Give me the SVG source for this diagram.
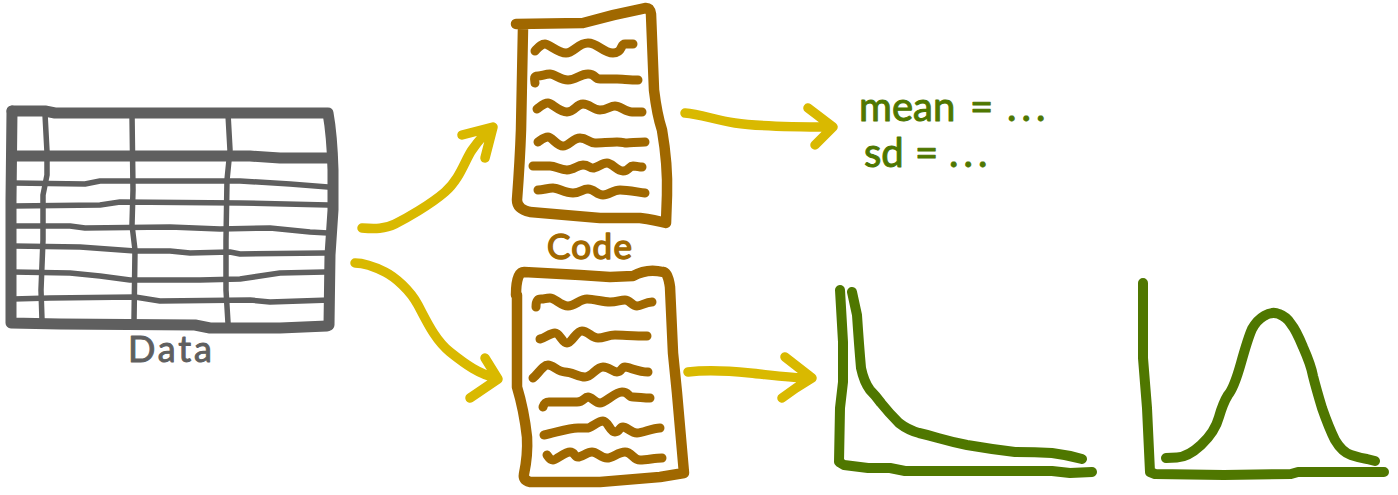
<svg xmlns="http://www.w3.org/2000/svg" width="1398" height="495" viewBox="0 0 1398 495">
<style>
path{fill:none;stroke-linecap:round;stroke-linejoin:round}
text{font-family:"Lato","Liberation Sans",sans-serif;font-weight:400;stroke-linejoin:round}
.g{stroke:#5f5f5f}.thick{stroke-width:11}.thin{stroke-width:5.5}
.b{stroke:#a06800}.box{stroke-width:10.5}.w{stroke-width:9}
.y{stroke:#d9b900;stroke-width:9.5}
.gr{stroke:#4f7700;stroke-width:10}
.tg{fill:#5f5f5f;stroke:#5f5f5f;stroke-width:1}
.tb{fill:#a06800;stroke:#a06800;stroke-width:1.5}
.tgr{fill:#4f7700;stroke:#4f7700;stroke-width:1}
</style>
<rect width="1398" height="495" fill="#fff"/>
<g id="data">
<path class="g thin" d="M45 114L47 152L47 175L43 195L43 240L41 290L42 320"/>
<path class="g thin" d="M132 114L133 190L132 225L135 250L134 322"/>
<path class="g thin" d="M228 114L230 150L227 180L226 240L226 290L228 323"/>
<path class="g thin" d="M13 183L85 184L100 181L240 181L290 184L328 187"/>
<path class="g thin" d="M13 206L100 205L120 202L240 203L328 205"/>
<path class="g thin" d="M13 226L70 226L85 228L170 227L220 229L270 228L310 232L328 233"/>
<path class="g thin" d="M13 246L80 247L135 251L170 251L190 253L230 252L240 254L325 253"/>
<path class="g thin" d="M13 272L70 273L100 276L130 280L200 280L240 279L280 273L325 272"/>
<path class="g thin" d="M13 299L50 298L135 297L160 301L250 300L270 302L330 300"/>
<path class="g thick" d="M12 111L45 111L55 113L328 113Q332 135 333 170L333 210L330 255L329 325"/>
<path class="g thick" d="M12 111L11 200L11 323L60 324L195 325L210 328L280 328L327 326"/>
<path class="g thick" d="M12 156L250 156L280 158L332 158"/>
</g>
<g id="data-label"><text class="tg" x="128" y="362" font-size="36" textLength="84" lengthAdjust="spacing">Data</text></g>
<g id="code-top">
<path class="b box" d="M516 24L583 23Q615 14 646 8Q650 8 651 14L654 90Q657 115 662 130Q668 165 667 195L666 223Q655 220 640 218L600 218L530 212Q517 209 517 200Q520 160 521 130L523 28"/>
<path class="b w" d="M535 51C539 47 541 44 545 44S558 53 566 53S578 43 588 43S603 53 613 53S620 44 625 44S630 44 633 44"/>
<path class="b w" d="M535 83C534 78 534 76 538 76S545 74 550 74S560 80 568 80S580 74 588 74S594 79 600 79S612 79 617 79S630 80 638 80"/>
<path class="b w" d="M537 109C541 106 544 103 548 103S559 112 567 112S576 104 583 104S593 110 600 110S610 106 615 106S626 112 632 112S639 112 642 112"/>
<path class="b w" d="M538 142C541 140 544 137 548 137S557 146 563 146S573 138 580 138S589 143 595 143S610 142 617 142S623 143 627 143S638 142 645 142"/>
<path class="b w" d="M533 166C538 166 544 166 550 166S560 170 567 170S577 165 583 165S589 168 593 168S602 163 607 163S617 171 623 171S629 166 633 166S639 167 642 167"/>
<path class="b w" d="M538 190C543 190 548 188 553 188S565 193 573 193S582 189 588 189S597 195 603 195S613 190 620 190S637 192 645 193"/>
</g>
<g id="code-label"><text class="tb" x="547" y="259" font-size="35" textLength="85" lengthAdjust="spacing">Code</text></g>
<g id="code-bottom">
<path class="b box" d="M516 295Q516 272 524 272L580 275L610 277L633 276Q647 268 663 272Q668 272 670 287L673 353L677 393L684 473L660 477L600 482L530 482Q523 480 524 474Q528 455 527 437Q524 410 517 387L517 295"/>
<path class="b w" d="M536 307C536 302 537 299 541 299S545 298 550 298S561 306 568 306S580 299 587 299S603 302 610 302S620 300 625 300S632 306 637 306S645 302 652 302"/>
<path class="b w" d="M540 339C545 338 550 333 555 333S562 343 567 343S576 331 582 331S592 338 598 338S608 335 615 335S635 336 647 336"/>
<path class="b w" d="M533 378C538 374 543 365 548 365S558 372 565 372S578 377 585 377S596 367 603 367S612 372 617 372S621 367 625 367S638 372 648 372"/>
<path class="b w" d="M543 407C544 404 545 402 549 402S570 402 577 402S584 397 588 397S595 403 600 403S615 392 622 392S628 397 633 397S644 398 650 398"/>
<path class="b w" d="M544 435C555 433 568 428 578 428S583 428 587 428S598 421 603 421S610 432 615 432S619 427 623 427S631 433 637 433S652 428 660 428"/>
<path class="b w" d="M547 455C549 458 550 460 553 460S565 452 570 452S574 457 578 457S587 452 592 452S601 458 607 458S618 452 625 452S633 460 640 460S655 458 662 458"/>
</g>
<g id="result-stats">
<text class="tgr" y="121" font-size="40"><tspan x="859">mean</tspan><tspan x="970">=</tspan><tspan x="1007" letter-spacing="5">...</tspan></text>
<text class="tgr" y="167" font-size="40"><tspan x="864">sd</tspan><tspan x="915">=</tspan><tspan x="949" letter-spacing="5">...</tspan></text>
</g>
<g id="plot-skewed">
<path class="gr" d="M840 290L843 342L843 382L840 408L839 462L844 465L868 468L890 468L905 471L1052 471L1070 473L1092 472"/>
<path class="gr" d="M852 292L857 315Q859 345 861 368Q864 382 870 390Q876 396 881 403Q889 413 899 423Q908 430 919 433Q928 435 938 438Q952 442 967 445Q990 449 1015 452Q1035 452 1052 453Q1068 455 1082 459"/>
</g>
<g id="plot-normal">
<path class="gr" d="M1143 283L1143 358L1147 408L1150 472L1155 474L1224 475L1291 474L1298 472L1384 472"/>
<path class="gr" d="M1166 458L1177 457.5Q1188 457 1201 445Q1215 432 1219 417Q1223 403 1228 395Q1234 388 1241 363Q1248 338 1252 329Q1257 320 1264 316Q1272 311 1279 314Q1287 317 1291 324Q1296 330 1303 347Q1311 365 1313 376Q1316 388 1322 408Q1329 428 1335 440Q1342 452 1351 455Q1360 458 1367 459L1375 461"/>
</g>
<g id="connectors">
<path class="y" d="M362 228C375 229 385 229 395 224S430 205 445 192S465 160 472 150S485 133 492 128M462 135L493 127L485 158"/>
<path class="y" d="M355 263C365 263 375 267 385 272S410 290 418 305S435 340 450 352S480 375 497 378M485 358L498 379L470 398"/>
<path class="y" d="M685 113C700 114 715 120 735 123S780 127 830 127M808 108L833 127L815 145"/>
<path class="y" d="M688 372C705 370 730 371 750 373S790 378 810 378M785 357L812 378L796 388L782 398"/>
</g>
</svg>
